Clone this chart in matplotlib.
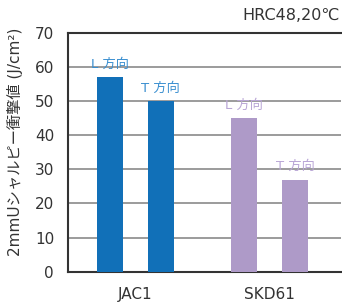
import matplotlib
matplotlib.use('Agg')
import matplotlib.pyplot as plt

plt.rcParams['font.family'] = ['DejaVu Sans', 'Noto Sans CJK JP']

# データ
steels = ['JAC1', 'SKD61']
directions = ['L 方向', 'T 方向']
values_jac1 = [57, 50]
values_skd61 = [45, 27]
yticks = [0, 10, 20, 30, 40, 50, 60, 70]

blue = '#1170b8'
purple = '#ae9ac8'
blue_txt = '#3a8fd0'
purple_txt = '#b9a6d6'

fig = plt.figure(figsize=(3.42, 3.03), dpi=100)
ax = fig.add_axes([68 / 342, 31.3 / 303, 273 / 342, 239 / 303])

x_jac1 = [0, 1]
x_skd61 = [2.63, 3.63]
w = 0.51

ax.bar(x_jac1, values_jac1, width=w, color=blue, zorder=3)
ax.bar(x_skd61, values_skd61, width=w, color=purple, zorder=3)

for x, v, d in zip(x_jac1, values_jac1, directions):
    ax.text(x, v + 1.8, d, ha='center', va='bottom', fontsize=9.5, color=blue_txt, zorder=4)
for x, v, d in zip(x_skd61, values_skd61, directions):
    ax.text(x, v + 1.8, d, ha='center', va='bottom', fontsize=9.5, color=purple_txt, zorder=4)

ax.set_xlim(-0.82, 4.53)
ax.set_ylim(0, 70)
ax.set_yticks(yticks)
ax.set_xticks([0.5, 3.13])
ax.set_xticklabels(steels)
ax.tick_params(axis='both', length=0, labelsize=11, colors='#333333')
ax.tick_params(axis='y', pad=10)
ax.tick_params(axis='x', pad=11)

ax.grid(axis='y', color='#8a8a8a', linewidth=1.2, zorder=1)
for s in ['left', 'bottom', 'top']:
    ax.spines[s].set_color('#333333')
    ax.spines[s].set_linewidth(1.5)
ax.spines['right'].set_visible(False)

ax.set_ylabel('2mmUシャルピー衝撃値 (J/cm²)', fontsize=11, color='#333333')
ax.yaxis.set_label_coords(-0.165, 0.543)

fig.text(340 / 342, 1 - 15 / 303, 'HRC48,20℃', ha='right', va='center', fontsize=11.5, color='#333333')

fig.savefig('out.png', dpi=100)
